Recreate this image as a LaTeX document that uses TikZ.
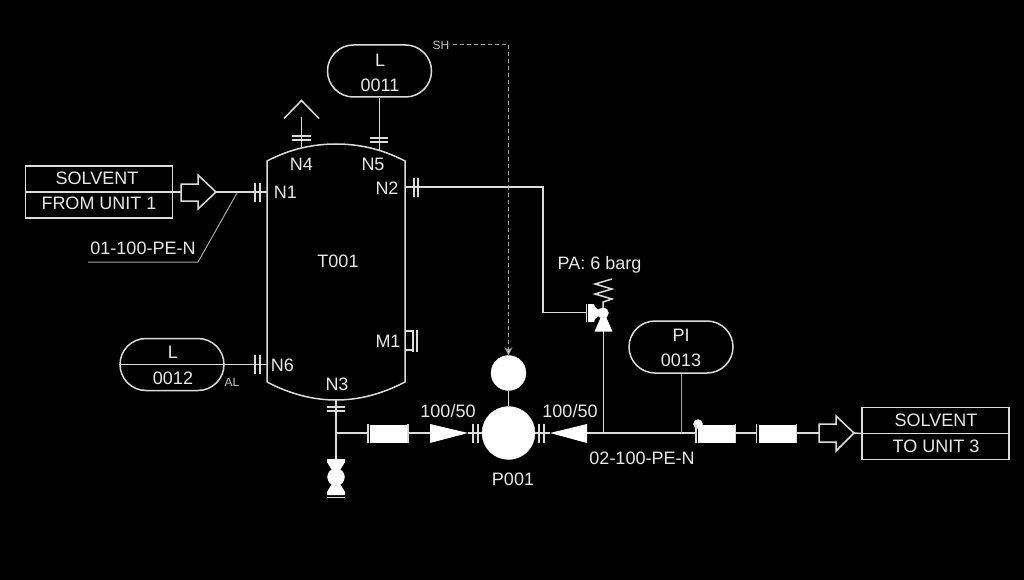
\documentclass[tikz,border=0pt]{standalone}
\usepackage{fontspec}
\setmainfont{Liberation Sans}
\usetikzlibrary{shapes.misc,arrows.meta}
\definecolor{ln}{HTML}{DCDCDC}
\definecolor{tx}{HTML}{E8E8E8}
\tikzset{
  pipe/.style={draw=ln,line width=1.5pt},
  flange/.style={draw=ln,line width=2pt},
  thinl/.style={draw=ln!75!black,line width=1pt},
  lab/.style={text=tx,font=\fontsize{18}{18}\selectfont,inner sep=0pt,anchor=center},
  tiny lab/.style={text=tx!85!black,font=\fontsize{12}{12}\selectfont,inner sep=0pt,anchor=center},
  bubble/.style={rounded rectangle,draw=ln,line width=1.5pt,minimum width=104pt,minimum height=52pt,inner sep=0pt,fill=black},
  boxn/.style={rectangle,draw=ln,line width=1.5pt,minimum width=147pt,minimum height=52pt,inner sep=0pt},
  ball/.style={circle,fill=white,draw=white,inner sep=0pt,line width=0.3pt},
  spool/.style={rectangle,fill=white,draw=none,minimum width=37pt,minimum height=18pt,inner sep=0pt}
}
\begin{document}
\begin{tikzpicture}[x=1pt,y=-1pt]
\fill[black] (0,0) rectangle (1024,580);
\useasboundingbox (0,0) rectangle (1024,580);
% vessel
\coordinate (vTL) at (267,161);\coordinate (vTR) at (405,161);
\coordinate (vBL) at (267,382);\coordinate (vBR) at (405,382);
\draw[pipe] (vBL) -- (vTL) .. controls (290,149) and (313,144) .. (336,144) .. controls (359,144) and (382,149) .. (vTR) -- (vBR) .. controls (382,394) and (359,400) .. (336,400) .. controls (313,400) and (290,394) .. (vBL);
% bubbles and boxes
\node[bubble] (b11) at (379.5,71) {};
\node[bubble] (b12) at (172,364.5) {};
\node[bubble] (b13) at (681,347) {};
\node[boxn] (src) at (99,192) {};
\node[boxn] (dst) at (935.5,433.5) {};
\draw[pipe] (src.west) -- (src.east);
\draw[pipe] (dst.west) -- (dst.east);
% N5
\coordinate (n5t) at (379.5,151);
\draw[pipe] (b11.south) -- (n5t);
\draw[flange] (370,138.5) -- (388,138.5) (370,142.5) -- (388,142.5);
% N4
\coordinate (n4t) at (301.5,148);\coordinate (n4e) at (301.5,117);
\draw[pipe] (n4t) -- (n4e);
\draw[flange] (292,136) -- (311,136) (292,140) -- (311,140);
\draw[pipe] (284,118.5) -- (301.5,100.5) -- (319,118.5);
% N1
\coordinate (n1) at (267,192);
\coordinate (a1t) at (216,192);
\draw[pipe,line join=miter] (181,184) -- (198,184) -- (198,175) -- (a1t) -- (198,209) -- (198,201) -- (181,201) -- cycle;
\draw[pipe] (src.east) -- (181,192);
\draw[pipe] (a1t) -- (n1);
\draw[flange] (255,183) -- (255,202) (259.5,183) -- (259.5,202);
\coordinate (ld1) at (237,193);\coordinate (ld2) at (198,262);\coordinate (ld3) at (88,262);
\draw[thinl] (ld1) -- (ld2) -- (ld3);
% N6
\coordinate (n6) at (267,364.5);
\draw[pipe] (b12.west) -- (n6);
\draw[flange] (255,355) -- (255,374) (259.5,355) -- (259.5,374);
% N2 and line to relief valve
\coordinate (n2) at (405,187);\coordinate (rv1) at (543,187);\coordinate (rv2) at (543,312.5);\coordinate (rv3) at (587,312.5);
\draw[pipe] (n2) -- (rv1) -- (rv2) -- (rv3);
\draw[flange] (414,178) -- (414,197) (418,178) -- (418,197);
% M1
\draw[pipe] (405,331) -- (413,331) (405,350) -- (413,350);
\draw[flange] (413,329.5) -- (413,352) (417,329.5) -- (417,352);
% N3, drain
\coordinate (n3) at (336,400);\coordinate (tee) at (336,433);\coordinate (dv) at (336,460);
\draw[pipe] (n3) -- (dv);
\draw[flange] (327,407) -- (345,407) (327,411) -- (345,411);
\node[ball,minimum size=17pt] (dball) at (336,477) {};
\fill[white] (327,459) -- (345,459) -- (345,462) -- (336,477) -- (327,462) -- cycle;
\fill[white] (336,477) -- (345,492) -- (345,495) -- (327,495) -- (327,492) -- cycle;
\draw[pipe] (327,497.5) -- (345,497.5);
% pump
\node[ball,minimum size=53pt] (pump) at (508.5,433) {};
\node[ball,minimum size=35pt] (motor) at (508.5,373) {};
\draw[pipe] (motor) -- (pump);
\coordinate (dash1) at (453,45);\coordinate (dash2) at (508.5,45);
\draw[thinl,dash pattern=on 4pt off 3pt,-{Stealth[length=8pt,width=8pt,fill=white]}] (dash1) -- (dash2) -- (motor.north);
% inlet line
\draw[pipe] (tee) -- (368,433);
\node[spool] (sp1) at (388,433.5) {};
\draw[pipe] (368,424) -- (368,443) (408,424) -- (408,443);
\draw[pipe] (408,433) -- (430,433);
\fill[white] (430,424) -- (468,433) -- (430,443) -- cycle;
\draw[pipe] (468,433) -- (pump.west);
\draw[flange] (473,424) -- (473,443) (478,424) -- (478,443);
% outlet line
\draw[pipe] (pump.east) -- (550,433);
\draw[flange] (539,424) -- (539,443) (544,424) -- (544,443);
\fill[white] (587,424) -- (550,433) -- (587,443) -- cycle;
\coordinate (t2) at (603.5,433);\coordinate (t3) at (681,433);
\draw[pipe] (587,433) -- (696,433);
\draw[pipe] (t2) -- (603.5,331);
\draw[thinl] (b13.south) -- (t3);
% relief valve
\node[ball,minimum size=11pt] (rvb) at (603,313) {};
\fill[white] (603.5,311) -- (612.5,331.5) -- (594.5,331.5) -- cycle;
\fill[white] (588,304) -- (594,304) -- (595,307) -- (603,313) -- (595,319) -- (594,322) -- (588,322) -- cycle;
\draw[pipe] (586.5,304) -- (586.5,322);
\draw[pipe,line join=miter] (rvb) -- (603,302) -- (612,299) -- (595,294) -- (612,289) -- (595,284) -- (612,279);
% trap spools
\node[ball,minimum size=9pt] (tb) at (698,424) {};
\node[spool] (sp2) at (716,433.5) {};
\node[spool] (sp3) at (777,433.5) {};
\draw[pipe] (696,424) -- (696,443) (735.5,424) -- (735.5,443);
\draw[pipe] (735.5,433) -- (756,433);
\draw[pipe] (756.5,424) -- (756.5,443) (796.5,424) -- (796.5,443);
\draw[pipe] (796.5,433) -- (819,433);
\coordinate (a2t) at (854,433);
\draw[pipe,line join=miter] (819,424) -- (836,424) -- (836,416) -- (a2t) -- (836,451) -- (836,442) -- (819,442) -- cycle;
\draw[pipe] (a2t) -- (dst.west);
% labels
\node[lab] (tL1) at (380,60) {L};
\node[lab] (t11) at (380,85) {0011};
\node[lab] (tL2) at (173,352) {L};
\node[lab] (t12) at (173,378) {0012};
\node[lab] (tPI) at (681,335) {PI};
\node[lab] (t13) at (681,360) {0013};
\node[lab] (s1) at (97,178) {SOLVENT};
\node[lab] (s2) at (99,203.5) {FROM UNIT 1};
\node[lab] (s3) at (936,420) {SOLVENT};
\node[lab] (s4) at (936,446.5) {TO UNIT 3};
\node[lab] (ln1) at (143,248.5) {01-100-PE-N};
\node[lab] (ln2) at (642,458.5) {02-100-PE-N};
\node[lab] (lN1) at (285.5,192.5) {N1};
\node[lab] (lN2) at (387,188.5) {N2};
\node[lab] (lN3) at (337,384.5) {N3};
\node[lab] (lN4) at (301.5,164) {N4};
\node[lab] (lN5) at (373,164) {N5};
\node[lab] (lN6) at (282.5,365) {N6};
\node[lab] (lM1) at (388,341) {M1};
\node[lab] (lT) at (338,261) {T001};
\node[lab] (r1) at (448,411) {100/50};
\node[lab] (r2) at (570,411) {100/50};
\node[lab] (lP) at (513,479) {P001};
\node[lab] (lPA) at (599.5,264.5) {PA: 6 barg};
\node[tiny lab] (lSH) at (441,45.5) {SH};
\node[tiny lab] (lAL) at (232,382) {AL};
\end{tikzpicture}
\end{document}
